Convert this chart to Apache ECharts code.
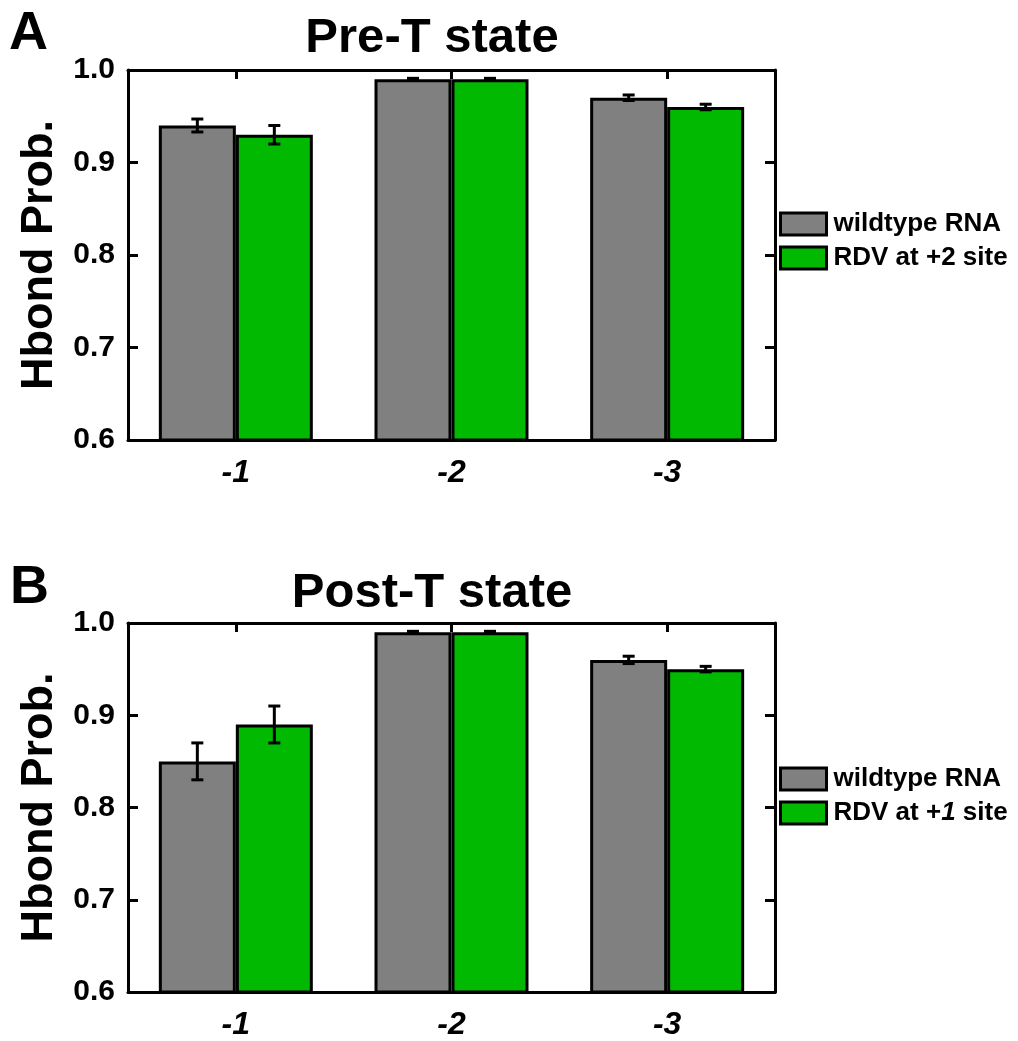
<!DOCTYPE html>
<html>
<head>
<meta charset="utf-8">
<script src="https://cdn.jsdelivr.net/npm/echarts@6/dist/echarts.min.js"></script>
<style>
  html, body { margin: 0; padding: 0; background: #fff; }
  #container { width: 1018px; height: 1041px; }
</style>
</head>
<body>
<div id="container"></div>
<script>
// data
var categories = ['-1', '-2', '-3'];
var yTicks = [0.6, 0.7, 0.8, 0.9, 1.0];

var preWild = [0.94, 0.99, 0.97];
var preWildErr = [0.007, 0.001, 0.003];
var preRdv = [0.93, 0.99, 0.96];
var preRdvErr = [0.010, 0.001, 0.003];

var postWild = [0.85, 0.99, 0.96];
var postWildErr = [0.02, 0.001, 0.004];
var postRdv = [0.89, 0.99, 0.95];
var postRdvErr = [0.02, 0.001, 0.003];

var FONT = '"Liberation Sans", Arial, sans-serif';
var GRAY = '#808080';
var GREEN = '#00b900';
var BAR_FRAC = 0.357;

var dom = document.getElementById('container');
var myChart = echarts.init(dom);

function bottomAxis(grid) {
    return {
        type: 'category', gridIndex: grid, position: 'bottom', data: categories,
        axisLine: { lineStyle: { color: '#000', width: 3 } },
        axisTick: { show: false },
        axisLabel: { color: '#000', fontFamily: FONT, fontSize: 32, fontWeight: 'bold', fontStyle: 'italic', margin: 17 },
        splitLine: { show: false }
    };
}
function topAxis(grid) {
    return {
        type: 'category', gridIndex: grid, position: 'top', data: categories,
        axisLine: { lineStyle: { color: '#000', width: 3 } },
        axisTick: { show: true, inside: true, alignWithLabel: true, length: 9, lineStyle: { color: '#000', width: 3 } },
        axisLabel: { show: false },
        splitLine: { show: false }
    };
}
function leftAxis(grid) {
    return {
        type: 'value', gridIndex: grid, position: 'left',
        min: yTicks[0], max: yTicks[yTicks.length - 1], interval: 0.1,
        name: 'Hbond Prob.', nameLocation: 'middle', nameRotate: 90, nameGap: 66,
        nameTextStyle: { color: '#000', fontFamily: FONT, fontSize: 45, fontWeight: 'bold' },
        axisLine: { show: true, lineStyle: { color: '#000', width: 3 } },
        axisTick: { show: true, inside: true, length: 10, lineStyle: { color: '#000', width: 3 } },
        axisLabel: {
            color: '#000', fontFamily: FONT, fontSize: 30, fontWeight: 'bold', margin: 13,
            formatter: function (v) { return v.toFixed(1); }
        },
        splitLine: { show: false }
    };
}
function rightAxis(grid) {
    return {
        type: 'value', gridIndex: grid, position: 'right',
        min: yTicks[0], max: yTicks[yTicks.length - 1], interval: 0.1,
        axisLine: { show: true, lineStyle: { color: '#000', width: 3 } },
        axisTick: { show: true, inside: true, length: 10, lineStyle: { color: '#000', width: 3 } },
        axisLabel: { show: false },
        splitLine: { show: false }
    };
}

function barSeries(name, vals, color, xi, yi) {
    return {
        name: name, type: 'bar', xAxisIndex: xi, yAxisIndex: yi,
        data: vals, barWidth: (BAR_FRAC * 100) + '%', barGap: '0%',
        itemStyle: { color: color, borderColor: '#000', borderWidth: 3 },
        z: 2
    };
}

// error bars drawn on top of each bar, side -1 = left bar, +1 = right bar
function errSeries(vals, errs, side, xi, yi) {
    var d = [];
    for (var i = 0; i < vals.length; i++) d.push([i, vals[i], errs[i]]);
    return {
        type: 'custom', xAxisIndex: xi, yAxisIndex: yi, data: d, z: 5, silent: true,
        renderItem: function (params, api) {
            var idx = api.value(0), v = api.value(1), e = api.value(2);
            var band = api.size([1, 0])[0];
            var off = side * band * BAR_FRAC / 2;
            var hi = api.coord([idx, v + e]);
            var lo = api.coord([idx, v - e]);
            var x = hi[0] + off;
            var cap = 6;
            var st = { stroke: '#000', lineWidth: 3 };
            return {
                type: 'group',
                children: [
                    { type: 'line', shape: { x1: x, y1: hi[1], x2: x, y2: lo[1] }, style: st },
                    { type: 'line', shape: { x1: x - cap, y1: hi[1], x2: x + cap, y2: hi[1] }, style: st },
                    { type: 'line', shape: { x1: x - cap, y1: lo[1], x2: x + cap, y2: lo[1] }, style: st }
                ]
            };
        }
    };
}

function legendFor(top, names) {
    return {
        orient: 'vertical', left: 779, top: top, data: names, padding: 0,
        icon: 'rect', itemWidth: 46, itemHeight: 22, itemGap: 6,
        selectedMode: false,
        itemStyle: { borderColor: '#000', borderWidth: 3 },
        formatter: function (name) {
            if (name === 'RDV at +1 site') return '{n|RDV at +}{i|1}{n| site}';
            return '{n|' + name + '}';
        },
        textStyle: {
            color: '#000', fontFamily: FONT, fontSize: 26, fontWeight: 'bold', lineHeight: 28,
            padding: [0, 0, 0, 2],
            rich: {
                n: { color: '#000', fontFamily: FONT, fontSize: 26, fontWeight: 'bold', lineHeight: 28 },
                i: { color: '#000', fontFamily: FONT, fontSize: 26, fontWeight: 'bold', fontStyle: 'italic', lineHeight: 28 }
            }
        }
    };
}

function label(text, x, y, size, align) {
    return {
        type: 'text', x: x, y: y,
        style: { text: text, font: 'bold ' + size + 'px ' + FONT, fill: '#000', textAlign: align, textVerticalAlign: 'middle' }
    };
}

var option = {
    backgroundColor: '#fff',
    animation: false,
    grid: [
        { left: 128, top: 70, width: 647, height: 370 },
        { left: 128, top: 623, width: 647, height: 372 }
    ],
    xAxis: [bottomAxis(0), topAxis(0), bottomAxis(1), topAxis(1)],
    yAxis: [leftAxis(0), rightAxis(0), leftAxis(1), rightAxis(1)],
    legend: [
        legendFor(210, ['wildtype RNA', 'RDV at +2 site']),
        legendFor(765, ['wildtype RNA', 'RDV at +1 site'])
    ],
    graphic: [
        label('A', 9, 34, 54, 'left'),
        label('Pre-T state', 432, 38, 49, 'center'),
        label('B', 10, 588, 54, 'left'),
        label('Post-T state', 432, 593, 49, 'center')
    ],
    series: [
        barSeries('wildtype RNA', preWild, GRAY, 0, 0),
        barSeries('RDV at +2 site', preRdv, GREEN, 0, 0),
        errSeries(preWild, preWildErr, -1, 0, 0),
        errSeries(preRdv, preRdvErr, 1, 0, 0),
        barSeries('wildtype RNA', postWild, GRAY, 2, 2),
        barSeries('RDV at +1 site', postRdv, GREEN, 2, 2),
        errSeries(postWild, postWildErr, -1, 2, 2),
        errSeries(postRdv, postRdvErr, 1, 2, 2)
    ]
};

myChart.setOption(option);
</script>
</body>
</html>
